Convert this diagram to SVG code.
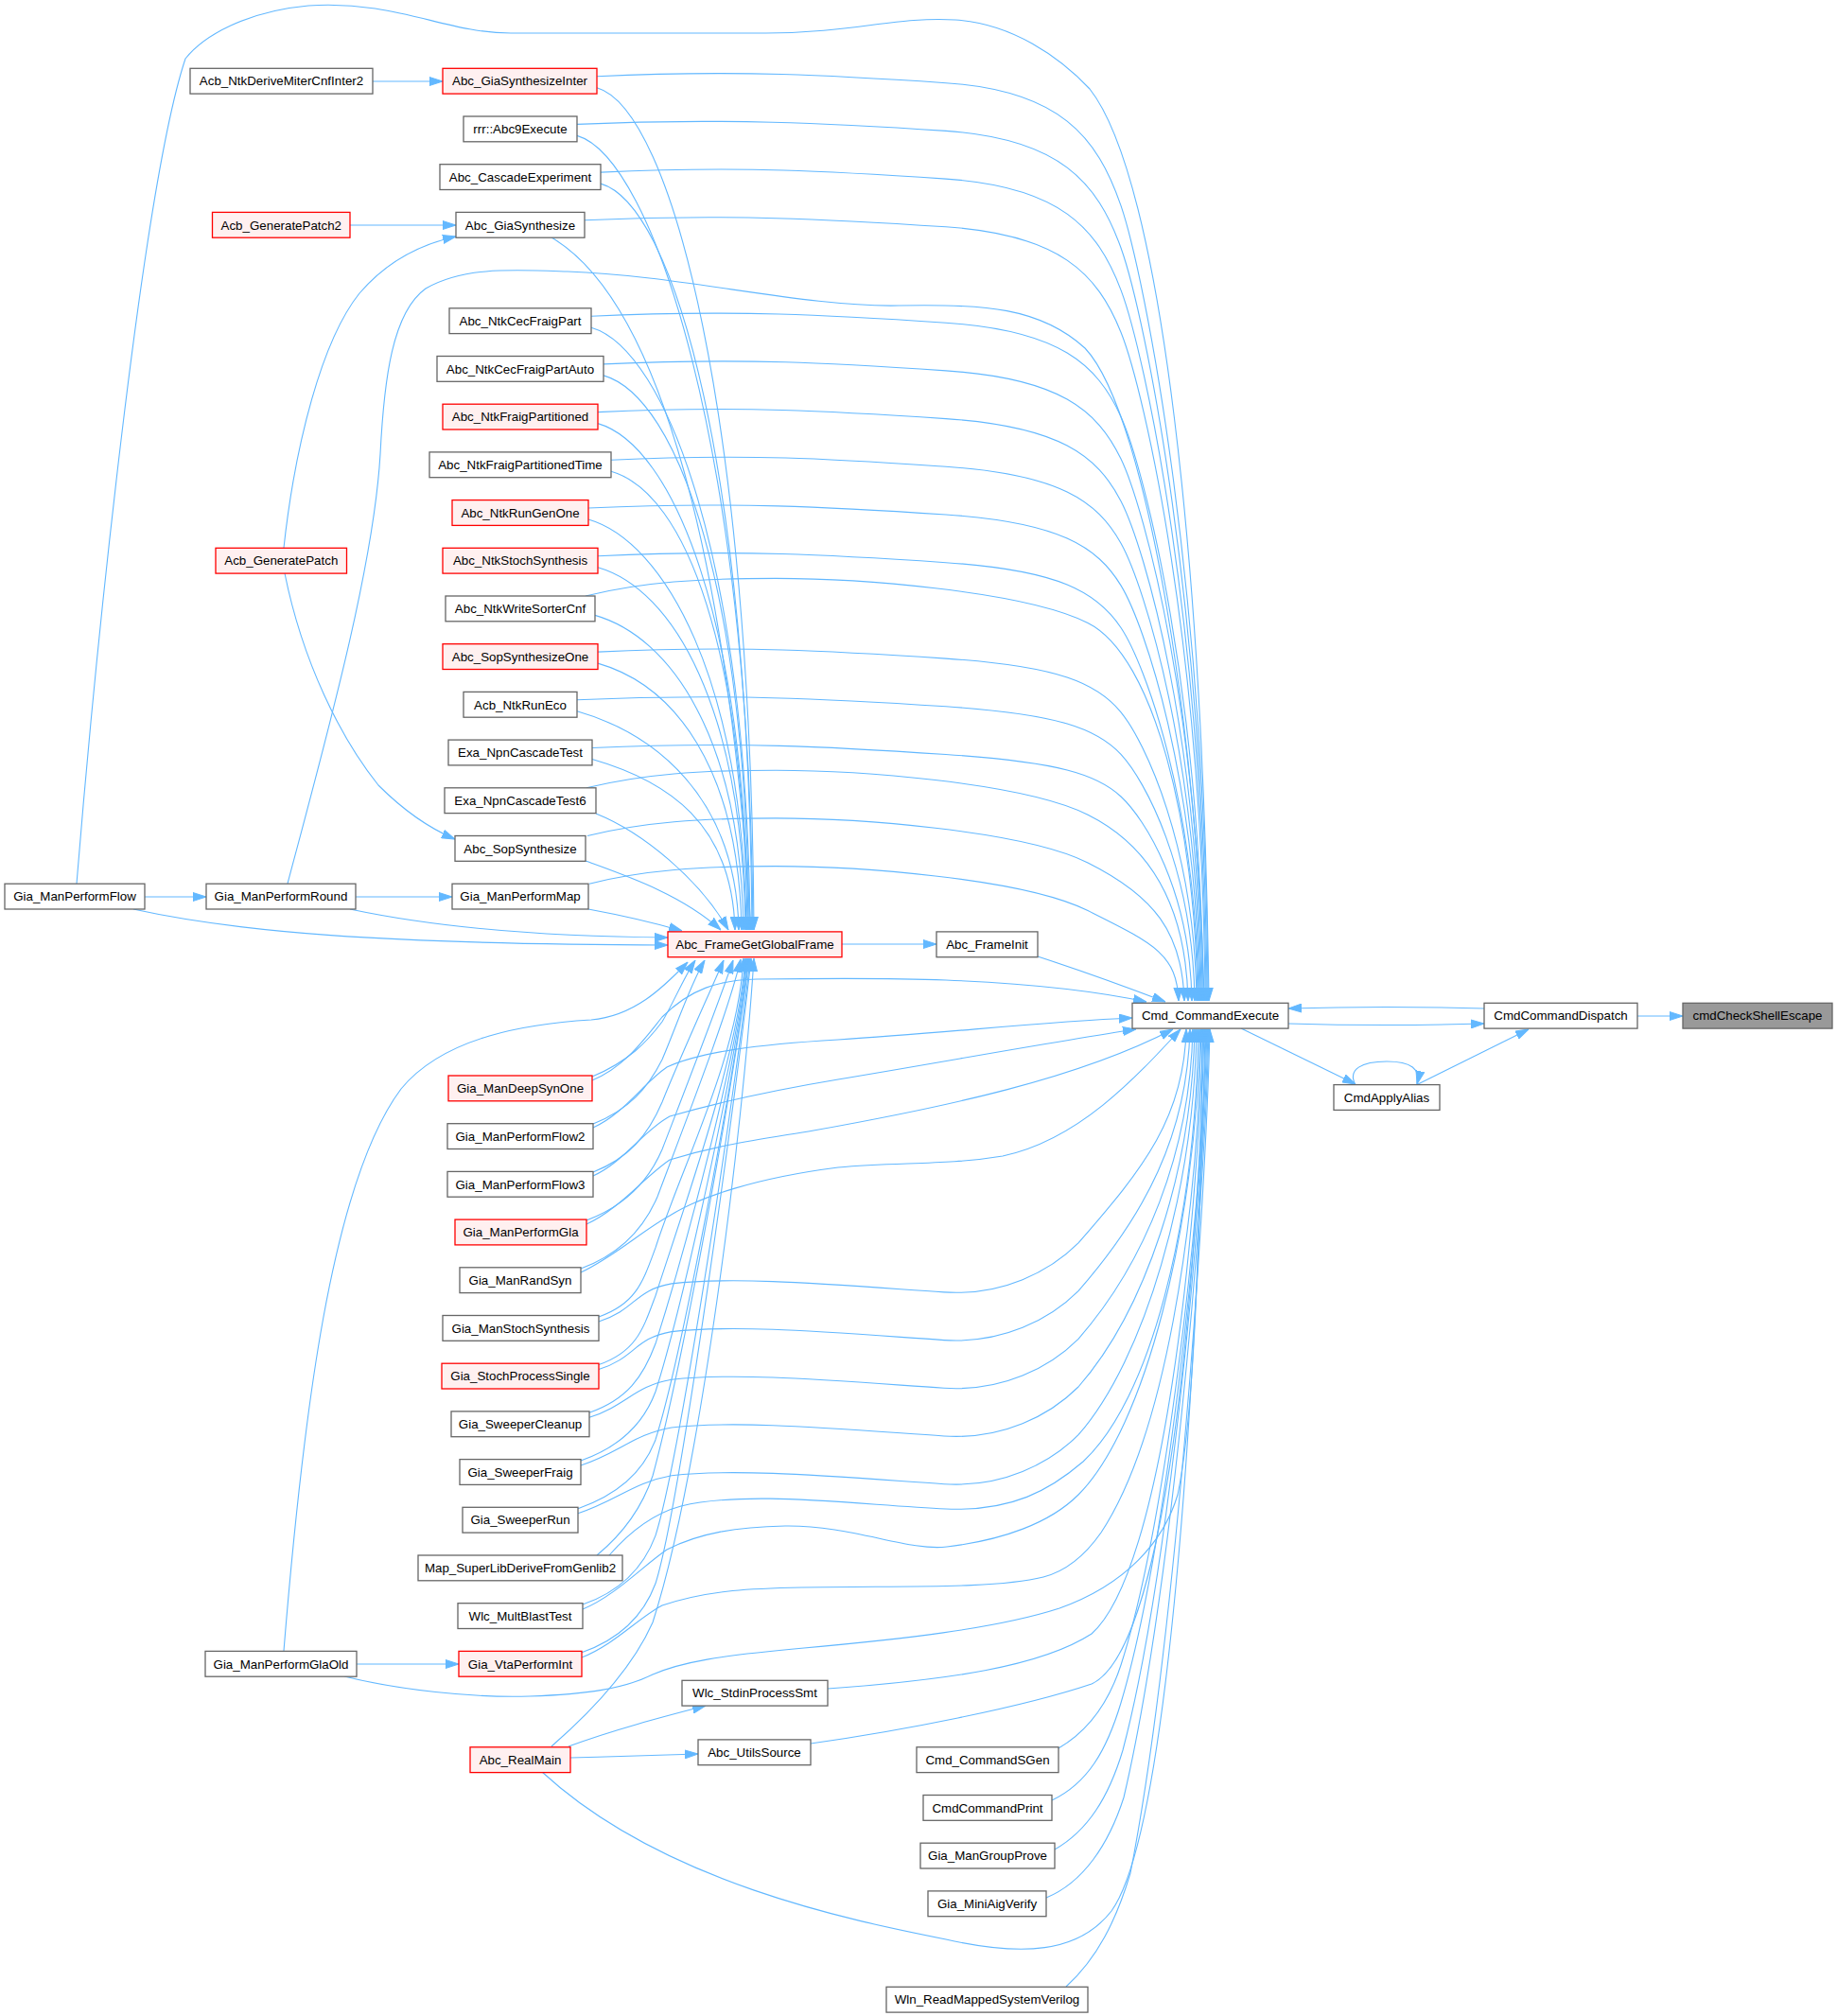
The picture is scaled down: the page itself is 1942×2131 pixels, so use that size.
<svg xmlns="http://www.w3.org/2000/svg" width="1942" height="2131" viewBox="0 0 1942 2131">
<style>
.nd rect{fill:#ffffff;stroke:#666666;stroke-width:1.3}
.rd rect{fill:#fff0f0;stroke:#ff0000;stroke-width:1.3}
.gd rect{fill:#999999;stroke:#666666;stroke-width:1.3}
text{font-family:"Liberation Sans",Arial,Helvetica,sans-serif;font-size:13.33px;text-anchor:middle;fill:#000000}
#edges path{fill:none;stroke:#63b8ff;stroke-width:1.1;marker-end:url(#ah)}
</style>
<defs>
<marker id="ah" viewBox="0 0 14 10" refX="14" refY="5" markerWidth="14" markerHeight="10" orient="auto" markerUnits="userSpaceOnUse"><path d="M0,0.5 L14,5 L0,9.5 z" fill="#63b8ff" stroke="#63b8ff" stroke-width="1"/></marker>
</defs>
<rect x="0" y="0" width="1942" height="2131" fill="#ffffff"/>
<g id="edges">
<path d="M394,86 L468,86"/>
<path d="M370,238 L482,238"/>
<path d="M300,579 C312,470 340,360 380,310 C410,275 445,258 482,250"/>
<path d="M301,606 C320,700 360,780 400,830 C430,860 455,876 481,887"/>
<path d="M153,948 L218,948"/>
<path d="M376,948 L478,948"/>
<path d="M141,961 C250,985 400,998 706,999"/>
<path d="M370,961 C450,978 560,990 706,991"/>
<path d="M622,961 C660,968 690,975 721,984"/>
<path d="M890,998 L990,998"/>
<path d="M81,934 C100,700 150,200 196,62 C215,38 260,12 326,6 C420,0 470,35 540,35 L810,35 C900,35 950,17 1010,21 C1070,25 1120,60 1152,94 C1228,190 1272,600 1278,1058"/>
<path d="M304,934 C345,780 395,600 402,480 C406,400 415,330 450,305 C490,282 540,285 600,287 C720,291 850,325 950,323 C1040,321 1100,325 1147,368 C1215,440 1268,800 1273,1058"/>
<path d="M631,80.7 C781,73.7 880,79.7 1000,87.7 S1160,144.3 1185,217.4 S1275,620.5 1277,1058"/>
<path d="M610,131.4 C760,124.4 880,130.4 1000,138.4 S1160,192.5 1185,262 S1274,643.3 1276,1058"/>
<path d="M635,182.1 C785,175.1 880,181.1 1000,189.1 S1160,240.6 1185,306.6 S1273,666.1 1275,1058"/>
<path d="M618,232.8 C768,225.8 880,231.8 1000,239.8 S1160,288.8 1185,351.2 S1272,688.9 1274,1058"/>
<path d="M625,334.2 C775,327.2 880,333.2 1000,341.2 S1160,385.1 1185,440.5 S1270,734.5 1272,1058"/>
<path d="M638,384.9 C788,377.9 880,383.9 1000,391.9 S1160,433.3 1185,485.1 S1269,757.4 1271,1058"/>
<path d="M632,435.6 C782,428.6 880,434.6 1000,442.6 S1160,481.5 1185,529.7 S1268,780.2 1270,1058"/>
<path d="M646,486.3 C796,479.3 880,485.3 1000,493.3 S1160,529.6 1185,574.3 S1267,803 1269,1058"/>
<path d="M622,537 C772,530 880,536 1000,544 S1160,577.8 1185,618.9 S1266,825.8 1268,1058"/>
<path d="M632,587.7 C782,580.7 880,586.7 1000,594.7 S1160,626 1185,663.5 S1265,848.6 1267,1058"/>
<path d="M619,630 C680,615 740,611.4 820,611.4 S1080,623.4 1150,658.4 S1264,871.4 1266,1058"/>
<path d="M632,689.1 C782,682.1 880,688.1 1000,696.1 S1160,722.3 1185,752.8 S1263,894.2 1265,1058"/>
<path d="M610,739.8 C760,732.8 880,738.8 1000,746.8 S1160,770.5 1185,797.4 S1261,917 1263,1058"/>
<path d="M626,790.5 C776,783.5 880,789.5 1000,797.5 S1160,818.6 1185,842 S1258,939.9 1260,1058"/>
<path d="M620,832.8 C680,818 740,814.2 820,814.2 S1080,826.2 1150,861.2 S1254,962.7 1256,1058"/>
<path d="M621,883.5 C680,869 740,864.9 820,864.9 S1080,876.9 1150,911.9 S1250,985.5 1252,1058"/>
<path d="M623,934.2 C680,920 740,915.6 820,915.6 S1080,927.6 1150,962.6 S1244,1008.3 1246,1058"/>
<path d="M1097,1011 C1140,1025 1190,1043 1232,1059"/>
<path d="M631,92.7 C711,115.7 794,444.6 797,983"/>
<path d="M610,143.4 C690,166.4 793,475 796,983"/>
<path d="M635,194.1 C715,217.1 792,505.5 795,983"/>
<path d="M583,251 C700,320 770,600 794,983"/>
<path d="M625,346.2 C705,369.2 790,596.7 793,983"/>
<path d="M638,396.9 C718,419.9 789,627.1 792,983"/>
<path d="M632,447.6 C712,470.6 788,657.6 791,983"/>
<path d="M646,498.3 C726,521.3 787,688 790,983"/>
<path d="M622,549 C702,572 786,718.4 789,983"/>
<path d="M632,599.7 C712,622.7 785,748.8 788,983"/>
<path d="M629,650.4 C709,673.4 783,779.2 786,983"/>
<path d="M632,701.1 C712,724.1 781,809.7 784,983"/>
<path d="M610,751.8 C690,774.8 778,840.1 781,983"/>
<path d="M626,802.5 C706,825.5 774,870.5 777,983"/>
<path d="M630,860 C680,880 740,930 770,983"/>
<path d="M619,910 C660,925 720,945 762,983"/>
<path d="M626,1138 C665,1122 685,1100 700,1080 C712,1060 722,1035 735,1015"/>
<path d="M627,1188 C665,1173 685,1150 700,1120 C715,1085 730,1040 745,1015"/>
<path d="M627,1239 C665,1224 685,1200 700,1165 C720,1115 750,1050 765,1015"/>
<path d="M620,1290 C660,1275 685,1250 700,1215 C725,1150 760,1060 775,1015"/>
<path d="M614,1341 C655,1326 680,1300 695,1265 C725,1185 770,1070 783,1014"/>
<path d="M633,1391.9 C673,1377.9 680,1353.9 693,1318.9 C720,1233.9 780,1120 786,1013"/>
<path d="M633,1442.6 C673,1428.6 680,1404.6 693,1369.6 C720,1284.6 780,1120 788,1013"/>
<path d="M623,1493.3 C663,1479.3 680,1455.3 693,1420.3 C720,1335.3 780,1120 789,1013"/>
<path d="M614,1544 C654,1530 680,1506 693,1471 C720,1386 780,1120 790,1013"/>
<path d="M611,1594.7 C651,1580.7 680,1556.7 693,1521.7 C720,1436.7 780,1120 791,1013"/>
<path d="M631,1644 C660,1620 680,1590 690,1560 C720,1450 775,1150 792,1013"/>
<path d="M616,1696.1 C656,1682.1 680,1658.1 693,1623.1 C720,1538.1 782,1120 793,1013"/>
<path d="M615,1746.8 C655,1732.8 680,1708.8 693,1673.8 C720,1588.8 783,1120 794,1013"/>
<path d="M300,1745 C320,1500 350,1250 424,1151 C470,1095 560,1082 625,1078 C670,1074 700,1045 727,1017"/>
<path d="M583,1846 C630,1805 670,1760 690,1715 C740,1560 785,1200 797,1013"/>
<path d="M626,1142 C660,1128 680,1100 700,1075 C730,1045 760,1036 800,1035 C880,1034 950,1034 1000,1036 C1100,1040 1170,1050 1212,1059"/>
<path d="M627,1192 C660,1177 680,1145 705,1128 C740,1112 800,1104 886,1099 C1000,1092 1100,1080 1197,1076"/>
<path d="M627,1243 C660,1228 680,1195 708,1180 C760,1165 820,1152 886,1141 C1000,1122 1120,1100 1201,1088"/>
<path d="M620,1294 C655,1278 680,1245 708,1226 C760,1210 800,1205 860,1195 C1000,1170 1140,1140 1240,1088"/>
<path d="M614,1345 C650,1328 680,1300 708,1285 C740,1265 800,1245 886,1234 C950,1228 1000,1232 1060,1222 C1140,1205 1200,1140 1248,1088"/>
<path d="M633,1396.9 C673,1383.9 670,1363.9 710,1356.9 C780,1348.9 880,1357.9 998,1365.9 C1060,1369.9 1110,1343.9 1140,1313.9 C1210,1233.9 1252,1180 1254,1088"/>
<path d="M633,1447.6 C673,1434.6 670,1414.6 710,1407.6 C780,1399.6 880,1408.6 998,1416.6 C1060,1420.6 1110,1394.6 1140,1364.6 C1210,1284.6 1255,1200 1258,1088"/>
<path d="M623,1498.3 C663,1485.3 670,1465.3 710,1458.3 C780,1450.3 880,1459.3 998,1467.3 C1060,1471.3 1110,1445.3 1140,1415.3 C1210,1335.3 1258,1220 1261,1088"/>
<path d="M614,1549 C654,1536 670,1516 710,1509 C780,1501 880,1510 998,1518 C1060,1522 1110,1496 1140,1466 C1210,1386 1260,1240 1263,1088"/>
<path d="M611,1599.7 C651,1586.7 670,1566.7 710,1559.7 C780,1551.7 880,1560.7 998,1568.7 C1060,1572.7 1110,1546.7 1140,1516.7 C1210,1436.7 1262,1260 1265,1088"/>
<path d="M644,1644 C665,1620 690,1600 720,1592 C790,1575 900,1590 1000,1595 C1070,1598 1110,1575 1145,1545 C1215,1480 1263,1300 1267,1088"/>
<path d="M616,1701 C650,1687 680,1655 705,1638 C740,1620 780,1614 830,1613 C900,1612 960,1640 1001,1635 C1060,1628 1110,1610 1140,1580 C1210,1510 1264,1300 1269,1088"/>
<path d="M615,1752 C650,1738 675,1710 700,1697 C750,1680 800,1679 848,1678 C950,1676 1050,1680 1103,1667 C1130,1660 1150,1640 1164,1620 C1230,1520 1266,1300 1270,1088"/>
<path d="M364,1772 C420,1786 500,1795 560,1793 C620,1791 660,1785 690,1770 C720,1757 760,1750 850,1742 C950,1733 1052,1722 1120,1700 C1190,1675 1230,1630 1245,1580 C1262,1500 1270,1300 1271,1088"/>
<path d="M377,1759 L485,1759"/>
<path d="M601,1846 C650,1828 700,1815 746,1803"/>
<path d="M603,1858 C650,1857 700,1855 738,1854"/>
<path d="M875,1785 C1000,1776 1100,1762 1154,1727 C1230,1660 1266,1300 1272,1088"/>
<path d="M857,1843 C950,1830 1080,1805 1154,1780 C1240,1740 1268,1300 1273,1088"/>
<path d="M573,1873 C700,1990 900,2030 1000,2050 C1080,2068 1140,2065 1175,2020 C1240,1930 1268,1400 1274,1088"/>
<path d="M1119,1848 C1150,1830 1172,1800 1185,1760 C1230,1620 1270,1300 1275,1088"/>
<path d="M1112,1903 C1150,1885 1170,1850 1185,1800 C1230,1650 1271,1300 1276,1088"/>
<path d="M1115,1955 C1150,1935 1172,1900 1187,1850 C1232,1680 1272,1300 1277,1088"/>
<path d="M1106,2006 C1145,1990 1172,1950 1188,1900 C1235,1700 1273,1300 1278,1088"/>
<path d="M1127,2100 C1160,2070 1180,2030 1195,1980 C1240,1750 1274,1300 1279,1088"/>
<path d="M1362,1082 C1430,1084 1500,1084 1569,1082"/>
<path d="M1569,1066 C1500,1064 1430,1064 1362,1066"/>
<path d="M1731,1074 L1779,1074"/>
<path d="M1312,1087 L1433,1146"/>
<path d="M1497,1147 L1616,1088"/>
<path d="M1433,1147 C1424,1130 1440,1122 1466,1122 C1492,1122 1502,1130 1498,1146"/>
</g>
<g id="n1" class="nd"><rect x="201" y="72.3" width="193" height="26.8"/><text x="297.5" y="90.4">Acb_NtkDeriveMiterCnfInter2</text></g>
<g id="n2" class="rd"><rect x="468" y="72.3" width="163" height="26.8"/><text x="549.5" y="90.4">Abc_GiaSynthesizeInter</text></g>
<g id="n3" class="nd"><rect x="490" y="123" width="120" height="26.8"/><text x="550" y="141.1">rrr::Abc9Execute</text></g>
<g id="n4" class="nd"><rect x="465" y="173.7" width="170" height="26.8"/><text x="550" y="191.8">Abc_CascadeExperiment</text></g>
<g id="n5" class="rd"><rect x="224.5" y="224.4" width="145.5" height="26.8"/><text x="297.3" y="242.5">Acb_GeneratePatch2</text></g>
<g id="n6" class="nd"><rect x="482" y="224.4" width="136" height="26.8"/><text x="550" y="242.5">Abc_GiaSynthesize</text></g>
<g id="n7" class="nd"><rect x="475" y="325.8" width="150" height="26.8"/><text x="550" y="343.9">Abc_NtkCecFraigPart</text></g>
<g id="n8" class="nd"><rect x="462" y="376.5" width="176" height="26.8"/><text x="550" y="394.6">Abc_NtkCecFraigPartAuto</text></g>
<g id="n9" class="rd"><rect x="468" y="427.2" width="164" height="26.8"/><text x="550" y="445.3">Abc_NtkFraigPartitioned</text></g>
<g id="n10" class="nd"><rect x="454" y="477.9" width="192" height="26.8"/><text x="550" y="496">Abc_NtkFraigPartitionedTime</text></g>
<g id="n11" class="rd"><rect x="478" y="528.6" width="144" height="26.8"/><text x="550" y="546.7">Abc_NtkRunGenOne</text></g>
<g id="n12" class="rd"><rect x="468" y="579.3" width="164" height="26.8"/><text x="550" y="597.4">Abc_NtkStochSynthesis</text></g>
<g id="n13" class="rd"><rect x="228" y="579.3" width="138.5" height="26.8"/><text x="297.3" y="597.4">Acb_GeneratePatch</text></g>
<g id="n14" class="nd"><rect x="471" y="630" width="158" height="26.8"/><text x="550" y="648.1">Abc_NtkWriteSorterCnf</text></g>
<g id="n15" class="rd"><rect x="468" y="680.7" width="164" height="26.8"/><text x="550" y="698.8">Abc_SopSynthesizeOne</text></g>
<g id="n16" class="nd"><rect x="490" y="731.4" width="120" height="26.8"/><text x="550" y="749.5">Acb_NtkRunEco</text></g>
<g id="n17" class="nd"><rect x="474" y="782.1" width="152" height="26.8"/><text x="550" y="800.2">Exa_NpnCascadeTest</text></g>
<g id="n18" class="nd"><rect x="470" y="832.8" width="160" height="26.8"/><text x="550" y="850.9">Exa_NpnCascadeTest6</text></g>
<g id="n19" class="nd"><rect x="481" y="883.5" width="138" height="26.8"/><text x="550" y="901.6">Abc_SopSynthesize</text></g>
<g id="n20" class="nd"><rect x="5" y="934.2" width="148" height="26.8"/><text x="79" y="952.3">Gia_ManPerformFlow</text></g>
<g id="n21" class="nd"><rect x="218" y="934.2" width="158" height="26.8"/><text x="297" y="952.3">Gia_ManPerformRound</text></g>
<g id="n22" class="nd"><rect x="478" y="934.2" width="144" height="26.8"/><text x="550" y="952.3">Gia_ManPerformMap</text></g>
<g id="n23" class="rd"><rect x="706" y="984.9" width="184" height="26.8"/><text x="798" y="1003">Abc_FrameGetGlobalFrame</text></g>
<g id="n24" class="nd"><rect x="990" y="984.9" width="107" height="26.8"/><text x="1043.5" y="1003">Abc_FrameInit</text></g>
<g id="n25" class="nd"><rect x="1197" y="1060.3" width="165" height="26.8"/><text x="1279.5" y="1078.4">Cmd_CommandExecute</text></g>
<g id="n26" class="nd"><rect x="1569" y="1060.3" width="162" height="26.8"/><text x="1650" y="1078.4">CmdCommandDispatch</text></g>
<g id="n27" class="gd"><rect x="1779" y="1060.3" width="158" height="26.8"/><text x="1858" y="1078.4">cmdCheckShellEscape</text></g>
<g id="n28" class="nd"><rect x="1410" y="1146.6" width="112" height="26.8"/><text x="1466" y="1164.7">CmdApplyAlias</text></g>
<g id="n29" class="rd"><rect x="474" y="1137" width="152" height="26.8"/><text x="550" y="1155.1">Gia_ManDeepSynOne</text></g>
<g id="n30" class="nd"><rect x="473" y="1187.7" width="154" height="26.8"/><text x="550" y="1205.8">Gia_ManPerformFlow2</text></g>
<g id="n31" class="nd"><rect x="473" y="1238.4" width="154" height="26.8"/><text x="550" y="1256.5">Gia_ManPerformFlow3</text></g>
<g id="n32" class="rd"><rect x="481" y="1289.1" width="139" height="26.8"/><text x="550.5" y="1307.2">Gia_ManPerformGla</text></g>
<g id="n33" class="nd"><rect x="486" y="1339.8" width="128" height="26.8"/><text x="550" y="1357.9">Gia_ManRandSyn</text></g>
<g id="n34" class="nd"><rect x="468" y="1390.5" width="165" height="26.8"/><text x="550.5" y="1408.6">Gia_ManStochSynthesis</text></g>
<g id="n35" class="rd"><rect x="467" y="1441.2" width="166" height="26.8"/><text x="550" y="1459.3">Gia_StochProcessSingle</text></g>
<g id="n36" class="nd"><rect x="477" y="1491.9" width="146" height="26.8"/><text x="550" y="1510">Gia_SweeperCleanup</text></g>
<g id="n37" class="nd"><rect x="486" y="1542.6" width="128" height="26.8"/><text x="550" y="1560.7">Gia_SweeperFraig</text></g>
<g id="n38" class="nd"><rect x="489" y="1593.3" width="122" height="26.8"/><text x="550" y="1611.4">Gia_SweeperRun</text></g>
<g id="n39" class="nd"><rect x="442" y="1644" width="216" height="26.8"/><text x="550" y="1662.1">Map_SuperLibDeriveFromGenlib2</text></g>
<g id="n40" class="nd"><rect x="484" y="1694.7" width="132" height="26.8"/><text x="550" y="1712.8">Wlc_MultBlastTest</text></g>
<g id="n41" class="rd"><rect x="485" y="1745.4" width="130" height="26.8"/><text x="550" y="1763.5">Gia_VtaPerformInt</text></g>
<g id="n42" class="nd"><rect x="217" y="1745.4" width="160" height="26.8"/><text x="297" y="1763.5">Gia_ManPerformGlaOld</text></g>
<g id="n43" class="nd"><rect x="721" y="1776.3" width="154" height="26.8"/><text x="798" y="1794.4">Wlc_StdinProcessSmt</text></g>
<g id="n44" class="rd"><rect x="497" y="1846.8" width="106" height="26.8"/><text x="550" y="1864.9">Abc_RealMain</text></g>
<g id="n45" class="nd"><rect x="738" y="1838.9" width="119" height="26.8"/><text x="797.5" y="1857">Abc_UtilsSource</text></g>
<g id="n46" class="nd"><rect x="969" y="1846.8" width="150" height="26.8"/><text x="1044" y="1864.9">Cmd_CommandSGen</text></g>
<g id="n47" class="nd"><rect x="976" y="1897.5" width="136" height="26.8"/><text x="1044" y="1915.6">CmdCommandPrint</text></g>
<g id="n48" class="nd"><rect x="973" y="1948.2" width="142" height="26.8"/><text x="1044" y="1966.3">Gia_ManGroupProve</text></g>
<g id="n49" class="nd"><rect x="981" y="1998.9" width="125" height="26.8"/><text x="1043.5" y="2017">Gia_MiniAigVerify</text></g>
<g id="n50" class="nd"><rect x="937" y="2100.3" width="213" height="26.8"/><text x="1043.5" y="2118.4">Wln_ReadMappedSystemVerilog</text></g>
</svg>
